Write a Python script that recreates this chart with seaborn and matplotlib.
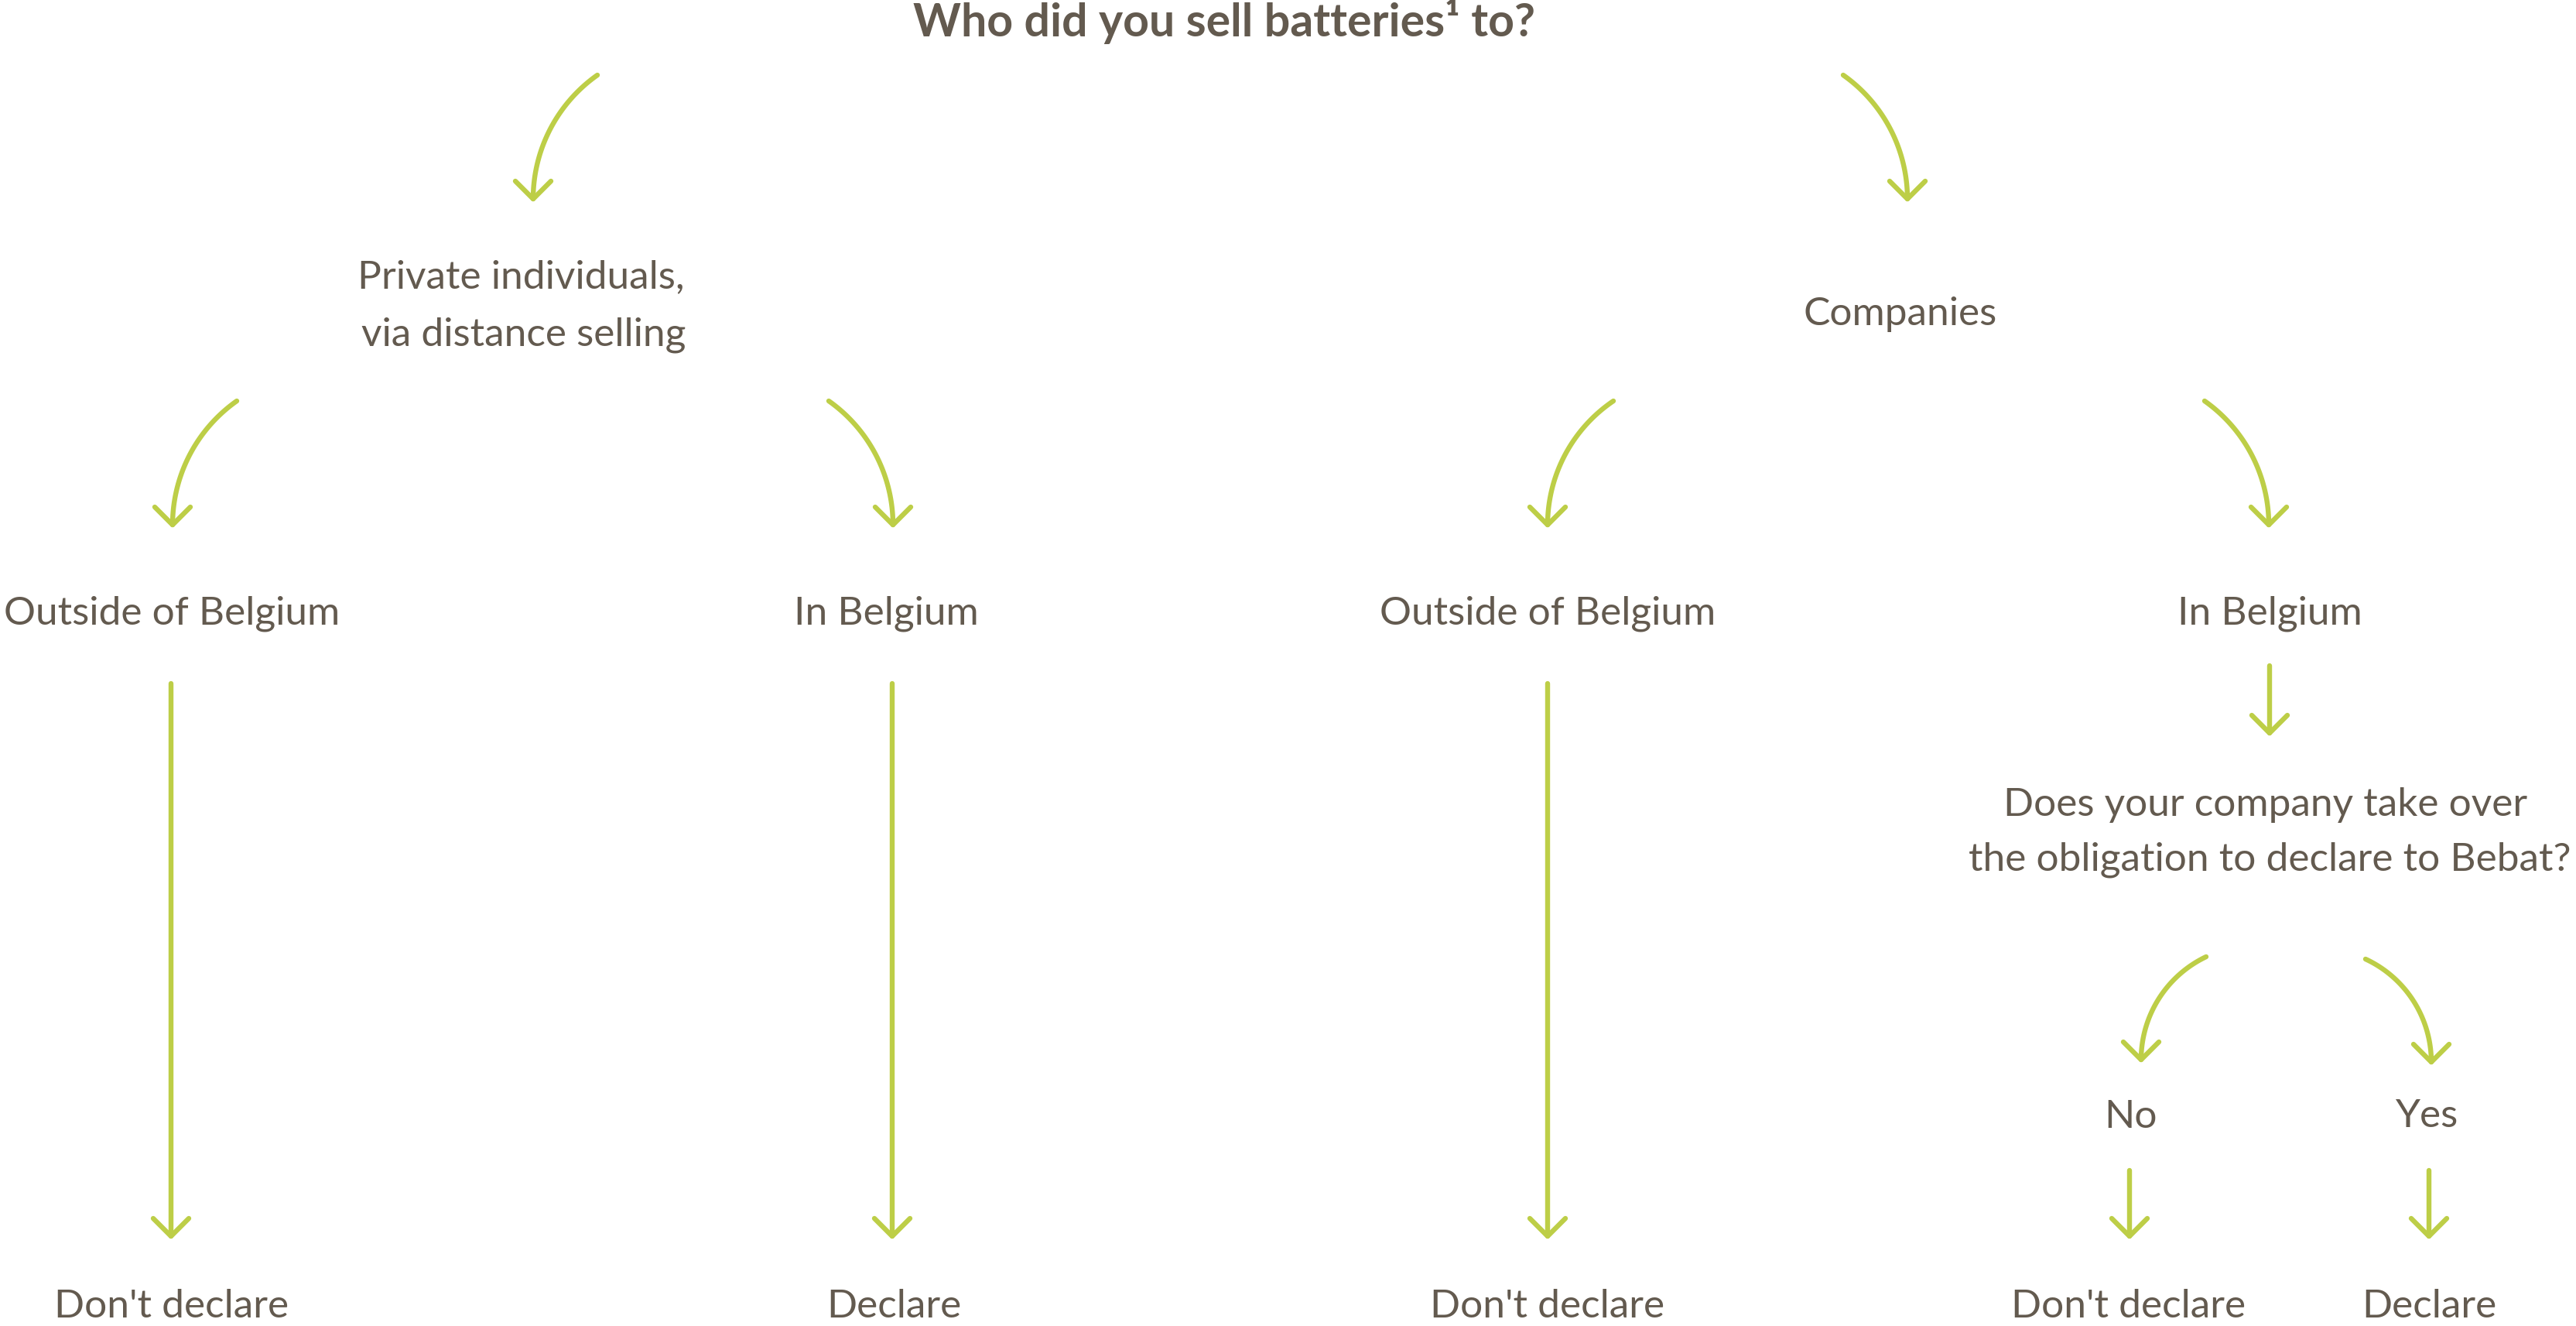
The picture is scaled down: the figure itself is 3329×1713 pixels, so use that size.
import numpy as np
import pandas as pd
import matplotlib
matplotlib.use("Agg")
import matplotlib.pyplot as plt
import seaborn as sns

TEXT = "#635a4f"
GREEN = "#bdce47"
W, H = 3329, 1713

# flowchart labels, one entry per text line: centre x and baseline y (image pixels)
label_text = [
    "Who did you sell batteries¹ to?",
    "Private individuals,", "via distance selling",
    "Companies",
    "Outside of Belgium", "In Belgium", "Outside of Belgium", "In Belgium",
    "Does your company take over", "the obligation to declare to Bebat?",
    "No", "Yes",
    "Don't declare", "Declare", "Don't declare", "Don't declare", "Declare",
]
label_x = [1582, 673, 677, 2456, 222, 1145, 2000, 2933, 2928, 2933,
           2754, 3137, 222, 1155, 2000, 2751, 3139]
label_y = [47, 372, 446, 420, 807, 807, 807, 807, 1054, 1125,
           1457, 1456, 1702, 1702, 1702, 1702, 1702]
label_bold = [True] + [False] * 16

# curved connectors: start point -> arrow tip
curve_x0 = [772, 2382, 306, 1071, 2085, 2849, 2851, 3057]
curve_y0 = [97, 97, 518, 518, 518, 518, 1236, 1239]
curve_x1 = [689, 2465, 223, 1154, 2000, 2932, 2767, 3142]
curve_y1 = [257, 257, 678, 678, 678, 678, 1369, 1372]

# straight connectors
line_x = [221, 1153, 2000, 2933, 2752, 3139]
line_top = [883, 883, 883, 860, 1512, 1512]
line_tip = [1597, 1597, 1597, 947, 1597, 1597]

HEAD = 23


def arc(x0, y0, x1, y1, n=80):
    # circular arc ending vertically at the tip
    dx = abs(x0 - x1)
    dy = abs(y1 - y0)
    r = (dx ** 2 + dy ** 2) / (2 * dx)
    s = np.sign(x0 - x1)
    cx, cy = x1 + s * r, y1
    a0 = np.arctan2(y0 - cy, x0 - cx)
    a1 = np.arctan2(y1 - cy, x1 - cx)
    d = (a1 - a0 + np.pi) % (2 * np.pi) - np.pi
    t = np.linspace(0, 1, n)
    return cx + r * np.cos(a0 + d * t), cy + r * np.sin(a0 + d * t)


rows = []
pid = 0
tips = []
for x0, y0, x1, y1 in zip(curve_x0, curve_y0, curve_x1, curve_y1):
    xs, ys = arc(x0, y0, x1, y1)
    rows += [(pid, a, b) for a, b in zip(xs, ys)]
    pid += 1
    tips.append((x1, y1))
for x, y0, y1 in zip(line_x, line_top, line_tip):
    rows += [(pid, x, y0), (pid, x, y1)]
    pid += 1
    tips.append((x, y1))
for x, y in tips:
    rows += [(pid, x - HEAD, y - HEAD), (pid, x, y), (pid, x + HEAD, y - HEAD)]
    pid += 1

paths = pd.DataFrame(rows, columns=["part", "x", "y"])

sns.set_theme(style="white")
plt.rcParams["font.family"] = ["Lato", "DejaVu Sans"]

fig = plt.figure(figsize=(W / 100, H / 100), dpi=100)
ax = fig.add_axes([0, 0, 1, 1])

sns.lineplot(data=paths, x="x", y="y", units="part", estimator=None, sort=False,
             color=GREEN, linewidth=4.6, solid_capstyle="round",
             solid_joinstyle="round", legend=False, ax=ax)

for txt, x, y, b in zip(label_text, label_x, label_y, label_bold):
    ax.text(x, y, txt, ha="center", va="baseline", color=TEXT,
            fontsize=42.5 if b else 37, fontweight="bold" if b else "normal")

ax.set_xlim(0, W)
ax.set_ylim(H, 0)
ax.axis("off")

fig.savefig("out.png", dpi=100, facecolor="white")
